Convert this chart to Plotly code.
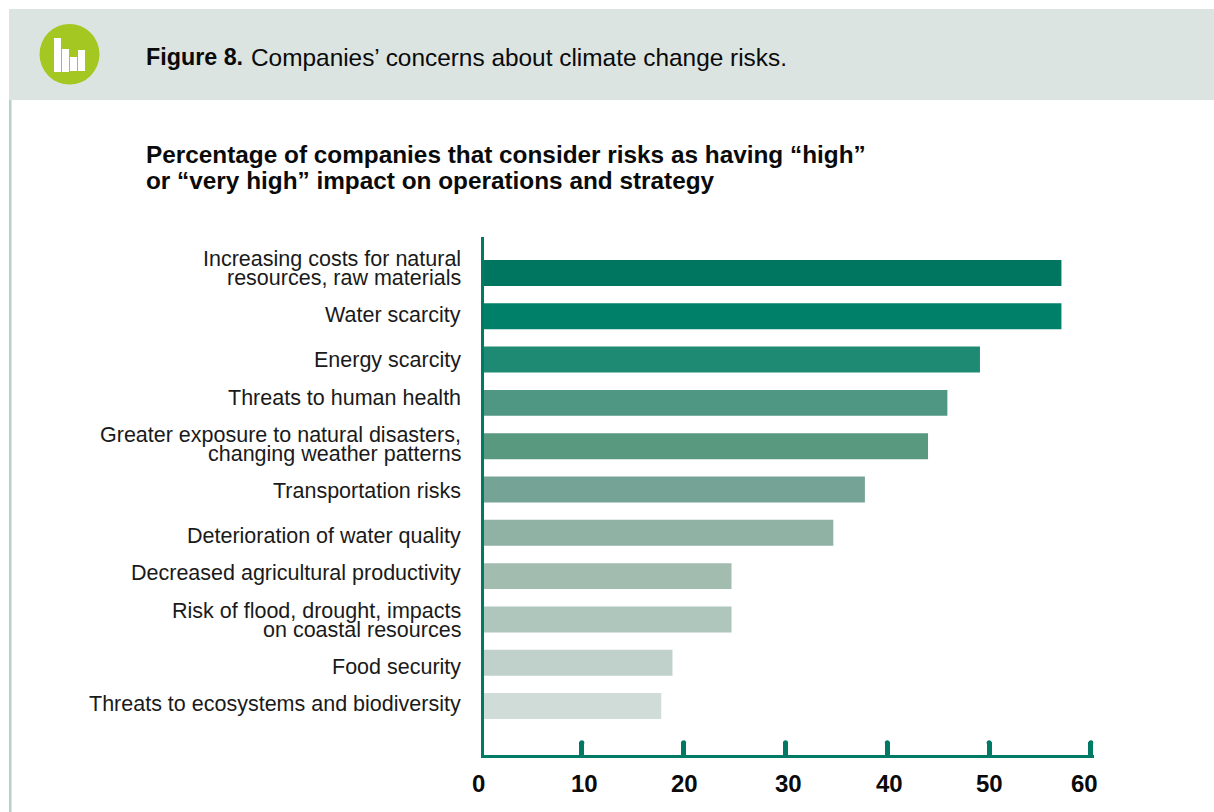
import plotly.graph_objects as go

W, H = 1214, 812
FONT = "Liberation Sans"
GREEN = "#007a65"

categories = [
    "Increasing costs for natural<br>resources, raw materials",
    "Water scarcity",
    "Energy scarcity",
    "Threats to human health",
    "Greater exposure to natural disasters,<br>changing weather patterns",
    "Transportation risks",
    "Deterioration of water quality",
    "Decreased agricultural productivity",
    "Risk of flood, drought, impacts<br>on coastal resources",
    "Food security",
    "Threats to ecosystems and biodiversity",
]
values = [57.1, 57.1, 49.1, 45.9, 44, 37.8, 34.7, 24.7, 24.7, 18.9, 17.8]
bar_colors = ["#007661", "#007f69", "#1e8a73", "#4f9683", "#59997f", "#75a395",
              "#8fb2a4", "#a2bcb0", "#afc6bd", "#bfd1ca", "#d0dcd8"]
x_ticks = [0, 10, 20, 30, 40, 50, 60]

title_bold = "Figure 8."
title_rest = "Companies’ concerns about climate change risks."
subtitle = ["Percentage of companies that consider risks as having “high”",
            "or “very high” impact on operations and strategy"]

# small hand-placement offsets (pixels) for labels, as in the source layout
label_dy = [-4.5, -1.5, 0.5, -5, -1.5, 1.5, 3.5, -3, 1, 4.5, -2]
tick_dx = [-2, 3, 1, 3, 2, 0, -6]


def px(x):
    return x / W


def py(y):
    return 1 - y / H


fig = go.Figure(go.Bar(
    y=list(range(len(categories))), x=values, orientation="h",
    marker=dict(color=bar_colors, line_width=0), width=0.6,
    hoverinfo="skip",
))

shapes = [
    dict(type="rect", xref="paper", yref="paper", x0=px(9), x1=px(W), y0=py(9), y1=py(100),
         fillcolor="#dbe4e1", line_width=0, layer="below"),
    dict(type="rect", xref="paper", yref="paper", x0=px(9), x1=px(11.5), y0=py(100), y1=py(H),
         fillcolor="#b9cfca", line_width=0, layer="below"),
    dict(type="circle", xref="paper", yref="paper", x0=px(39.5), x1=px(99.5), y0=py(24), y1=py(84.5),
         fillcolor="#a5c721", line_width=0),
]
for x0, x1, y0, y1 in [(54, 61, 38, 72), (62, 69, 49, 72), (70, 77, 57, 71), (78, 85, 50, 71)]:
    shapes.append(dict(type="rect", xref="paper", yref="paper", x0=px(x0), x1=px(x1), y0=py(y0), y1=py(y1),
                       fillcolor="white", line_width=0))
# rounded tick caps
for t in x_ticks[1:]:
    shapes.append(dict(type="circle", xref="x", yref="paper", xsizemode="pixel", ysizemode="pixel",
                       xanchor=t, yanchor=py(742.8), x0=-2.5, x1=2.5, y0=-2.5, y1=2.5,
                       fillcolor=GREEN, line_width=0))

annotations = [
    dict(xref="paper", yref="paper", x=px(144), y=py(57.5), xanchor="left", yanchor="middle", showarrow=False,
         text=f"<b>{title_bold}</b>", font=dict(family=FONT, size=23.3, color="#0a0a0a")),
    dict(xref="paper", yref="paper", x=px(248.5), y=py(57.5), xanchor="left", yanchor="middle", showarrow=False,
         text=title_rest, font=dict(family=FONT, size=24.4, color="#0a0a0a")),
]
for i, line in enumerate(subtitle):
    annotations.append(dict(xref="paper", yref="paper", x=px(144), y=py(154 + 27 * i), xanchor="left",
                            yanchor="middle", showarrow=False, text=f"<b>{line}</b>",
                            font=dict(family=FONT, size=24.35, color="#0a0a0a")))
for i, (c, dy) in enumerate(zip(categories, label_dy)):
    lines = c.split("<br>")
    for j, line in enumerate(lines):
        shift = (j - (len(lines) - 1) / 2) * 18.5 + dy
        annotations.append(dict(xref="paper", yref="y", x=px(462.5), y=i, yshift=-shift, xanchor="right",
                                yanchor="middle", showarrow=False, text=line,
                                font=dict(family=FONT, size=21.5, color="#1a1a1a")))
for t, dx in zip(x_ticks, tick_dx):
    # the zero sits just left of the clipped axis range, so it is placed against the page
    xpos = dict(xref="paper", x=px(480)) if t == 0 else dict(xref="x", x=t)
    annotations.append(dict(**xpos, yref="paper", xshift=dx, y=py(783), xanchor="center",
                            yanchor="middle", showarrow=False, text=f"<b>{t}</b>",
                            font=dict(family=FONT, size=24, color="#0a0a0a")))

fig.update_layout(
    width=W, height=H, margin=dict(l=0, r=0, t=0, b=0), autosize=False,
    paper_bgcolor="white", plot_bgcolor="white", showlegend=False, font=dict(family=FONT),
    shapes=shapes, annotations=annotations, bargap=0.4,
    xaxis=dict(domain=[px(483.5), px(1093.5)], range=[0.344, 60.25], tickmode="array", tickvals=x_ticks[1:],
               showticklabels=False, ticks="inside", ticklen=13, tickwidth=5, tickcolor=GREEN,
               showline=True, linecolor=GREEN, linewidth=3, showgrid=False, zeroline=False,
               anchor="y"),
    yaxis=dict(domain=[py(755), py(237)], range=[11.13, -0.83], showticklabels=False, ticks="",
               showline=True, linecolor=GREEN, linewidth=3, showgrid=False, zeroline=False,
               anchor="x"),
)

fig.write_html("out.html", config={"displayModeBar": False},
               post_script="document.body.style.margin='0';window.dispatchEvent(new Event('resize'));")
